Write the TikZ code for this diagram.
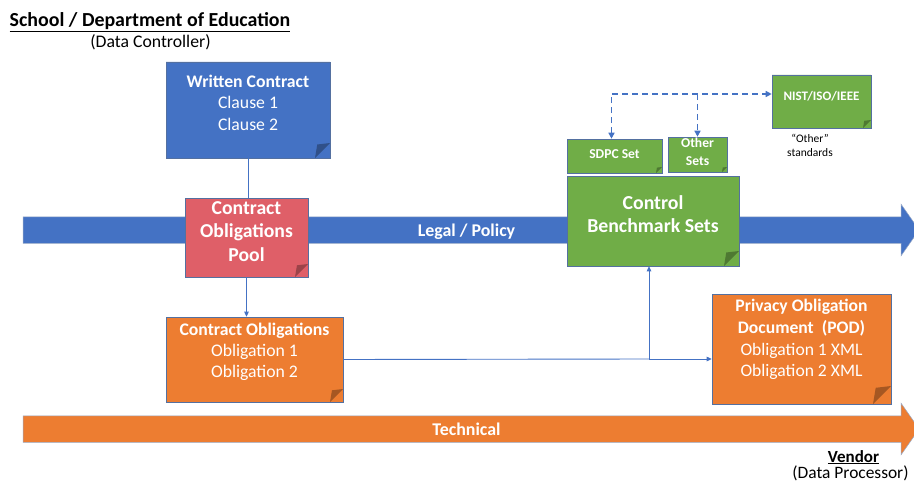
\documentclass[tikz,border=0pt]{standalone}
\usepackage{fontspec}
\setmainfont{Carlito}
\usetikzlibrary{positioning,calc,shapes.misc,shapes.arrows,arrows.meta}
\definecolor{cblue}{HTML}{4472C4}
\definecolor{corange}{HTML}{ED7D31}
\definecolor{cgreen}{HTML}{70AD47}
\definecolor{cred}{HTML}{DF5F68}
\definecolor{boxline}{HTML}{5470A0}
\tikzset{
  note/.style 2 args={chamfered rectangle,chamfered rectangle corners=south east,
    chamfered rectangle xsep=#2,chamfered rectangle ysep=#2,
    fill=#1,draw=boxline,line width=0.6pt,inner sep=0pt,
    path picture={\fill[#1!70!black] ([xshift=-#2]path picture bounding box.south east)
      -- ([yshift=#2]path picture bounding box.south east)
      -- ([xshift=-0.85*#2,yshift=0.9*#2]path picture bounding box.south east) -- cycle;}},
  notetext/.style={text=white,align=center,inner sep=0pt},
  bigarrow/.style={single arrow,single arrow head extend=12.5pt,single arrow tip angle=110,
    single arrow head indent=0pt,minimum height=896pt,minimum width=51pt,
    text height=14pt,text depth=2pt,inner ysep=5pt,inner xsep=0pt,
    draw=boxline!60,line width=0.5pt,text=white,
    font=\fontsize{17.9}{21}\selectfont\bfseries},
  link/.style={draw=cblue,line width=0.9pt,>={Triangle[length=5pt,width=4.5pt]}},
  dashlink/.style={draw=cblue,line width=1.6pt,dash pattern=on 6pt off 4pt,
    >={Triangle[length=6pt,width=6pt]}},
  plain/.style={inner sep=0pt,text=black}
}
\newcommand{\fsize}[2]{\fontsize{#1}{#2}\selectfont}

\begin{document}
\begin{tikzpicture}[x=1pt,y=-1pt]
  \useasboundingbox (0,0) rectangle (914,487);
  % the two lanes
  \node (legal) [bigarrow,fill=cblue] at (466.5,230) {Legal / Policy};
  \node (tech) [bigarrow,fill=corange] at (466.5,429) {Technical};

  % headings
  \node (ctrl) [plain,anchor=base,font=\fsize{19.9}{24}\bfseries] at (150,26.5)
    {\underline{School / Department of Education}};
  \node (ctrlsub) [plain,anchor=base,font=\fsize{17.7}{21}] at (150.5,48) {(Data Controller)};
  \node (vendor) [plain,anchor=base,font=\fsize{17}{20}\bfseries] at (853.5,462) {\underline{Vendor}};
  \node (vendorsub) [plain,anchor=base,font=\fsize{17.4}{21}] at (850.5,478) {(Data Processor)};

  % boxes
  \node (wc) [note={cblue}{15pt},minimum width=164pt,minimum height=96pt] at (248,110) {};
  \node (pool) [note={cred}{13pt},minimum width=123pt,minimum height=79pt] at (246.5,237.5) {};
  \node (obl) [note={corange}{13pt},minimum width=177pt,minimum height=85pt] at (254.5,359.5) {};
  \node (pod) [note={corange}{18pt},minimum width=179pt,minimum height=110pt] at (801.5,349) {};
  \node (cbs) [note={cgreen}{15pt},minimum width=172pt,minimum height=90pt] at (653,221) {};
  \node (sdpc) [note={cgreen}{6pt},minimum width=95pt,minimum height=34pt] at (614.5,156) {};
  \node (others) [note={cgreen}{5pt},minimum width=59pt,minimum height=35pt] at (697.5,154.5) {};
  \node (nist) [note={cgreen}{8pt},minimum width=99pt,minimum height=53pt] at (821.5,101.5) {};

  % box texts
  \node (wctext) [notetext,font=\fsize{17.7}{21.5}] at ($(wc)+(0,-7.5)$)
    {\textbf{Written Contract}\\Clause 1\\Clause 2};
  \node (pooltext) [notetext,font=\fsize{19.7}{23.5}\bfseries] at ($(pool)+(0,-6)$)
    {Contract\\Obligations\\Pool};
  \node (obltext) [notetext,font=\fsize{17.7}{21}] at ($(obl)+(0,-7.5)$)
    {\textbf{Contract Obligations}\\Obligation 1\\Obligation 2};
  \node (podtext) [notetext,font=\fsize{17.6}{21.7}] at ($(pod)+(0,-9.5)$)
    {\textbf{Privacy Obligation}\\\textbf{Document\ \ (POD)}\\Obligation 1 XML\\Obligation 2 XML};
  \node (cbstext) [notetext,font=\fsize{19.8}{23}\bfseries] at ($(cbs)+(0,-6.5)$)
    {Control\\Benchmark Sets};
  \node (sdpctext) [notetext,font=\fsize{13.6}{18}\bfseries] at ($(sdpc)+(0,-2)$) {SDPC Set};
  \node (otherstext) [notetext,font=\fsize{13.6}{18}\bfseries] at ($(others)+(0,-2.5)$) {Other\\Sets};
  \node (nisttext) [notetext,font=\fsize{13}{17}\bfseries] at ($(nist)+(0,-5.5)$) {NIST/ISO/IEEE};
  \node (stdnote) [plain,align=center,font=\fsize{11.5}{14}] at (810,145) {“Other”\\standards};

  % connectors
  \coordinate (jn) at (649,359);
  \coordinate (fork) at (697.5,94);
  \draw[link] (wc.south) -- (wc.south |- pool.north);
  \draw[link,->] (pool.south) -- (pool.south |- obl.north);
  \draw[link] (obl.east) -- (jn);
  \draw[link,->] (jn) -- (jn -| pod.west);
  \draw[link,->] (jn) -- (jn |- cbs.south);
  \draw[dashlink,<->] ($(sdpc.north)+(-3,0)$) |- (fork -| nist.west);
  \draw[dashlink,->] (fork) -- (others.north);
\end{tikzpicture}
\end{document}
